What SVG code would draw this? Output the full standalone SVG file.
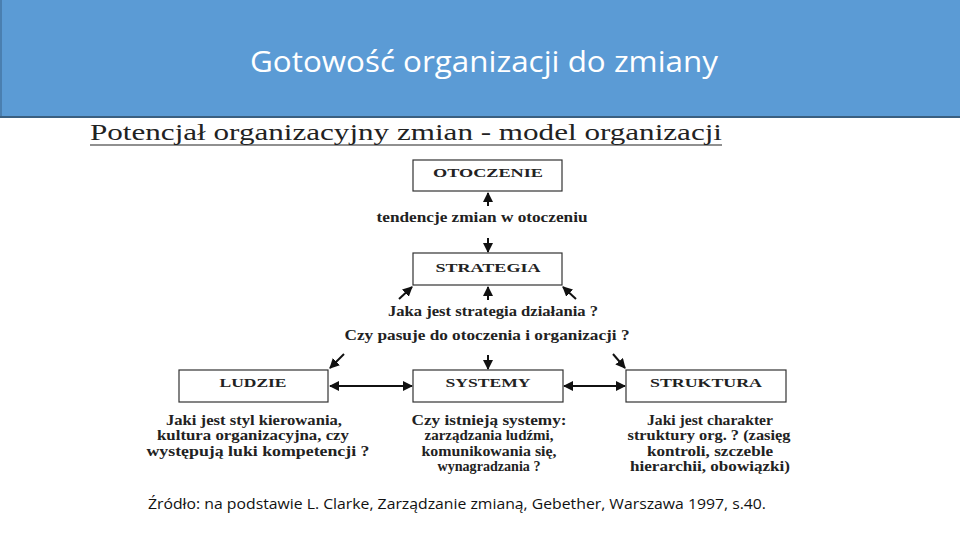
<svg xmlns="http://www.w3.org/2000/svg" width="960" height="540" viewBox="0 0 960 540">
<defs>
<marker id="ah" viewBox="0 0 10 10" refX="9" refY="5" markerWidth="10" markerHeight="10" markerUnits="userSpaceOnUse" orient="auto-start-reverse">
<path d="M0,0 L10,5 L0,10 z" fill="#111"/>
</marker>
<style>
.box{fill:#fff;stroke:#333;stroke-width:1.2}
.bl{font-family:"Liberation Serif","Times New Roman",serif;font-weight:bold;font-size:13px;fill:#222;text-anchor:middle}
.t{font-family:"Liberation Serif","Times New Roman",serif;font-weight:bold;font-size:14px;fill:#222;text-anchor:middle}
.c{stroke:#111;stroke-width:2;fill:none;marker-end:url(#ah)}
.d{stroke:#111;stroke-width:2;fill:none;marker-end:url(#ah);marker-start:url(#ah)}
</style>
</defs>
<rect width="960" height="540" fill="#fff"/>
<g id="header">
<rect x="0" y="0" width="960" height="117" fill="#5B9BD5"/>
<rect x="0" y="0" width="2" height="117" fill="#4A7FB0"/>
<line x1="0" y1="117" x2="960" y2="117" stroke="#3A5F80" stroke-width="2"/>
<text x="484" y="72" font-family="'Open Sans','Liberation Sans',sans-serif" font-size="29" fill="#fff" text-anchor="middle" textLength="468" lengthAdjust="spacingAndGlyphs">Gotowość organizacji do zmiany</text>
</g>
<g id="subtitle">
<text x="90" y="140" font-family="'Liberation Serif','Times New Roman',serif" font-size="23" fill="#222" textLength="632" lengthAdjust="spacingAndGlyphs">Potencjał organizacyjny zmian - model organizacji</text>
<line x1="90" y1="145" x2="722" y2="145" stroke="#222" stroke-width="1.2"/>
</g>
<g id="connectors">
<line class="c" x1="488" y1="206" x2="488" y2="193"/>
<line class="c" x1="488" y1="238" x2="488" y2="252"/>
<line class="c" x1="488" y1="300" x2="488" y2="287"/>
<line class="c" x1="399" y1="299" x2="412" y2="287"/>
<line class="c" x1="576" y1="299" x2="563" y2="287"/>
<line class="c" x1="488" y1="355" x2="488" y2="369"/>
<line class="c" x1="344" y1="354" x2="330" y2="368"/>
<line class="c" x1="613" y1="354" x2="625" y2="368"/>
<line class="d" x1="330" y1="386" x2="412" y2="386"/>
<line class="d" x1="564" y1="386" x2="625" y2="386"/>
</g>
<g id="otoczenie">
<rect class="box" x="413" y="160" width="149" height="31"/>
<text class="bl" x="488" y="177" textLength="110" lengthAdjust="spacingAndGlyphs">OTOCZENIE</text>
</g>
<g id="label-tendencje">
<text class="t" x="482" y="222" textLength="211" lengthAdjust="spacingAndGlyphs">tendencje zmian w otoczeniu</text>
</g>
<g id="strategia">
<rect class="box" x="413" y="253" width="149" height="32"/>
<text class="bl" x="488" y="272" textLength="105" lengthAdjust="spacingAndGlyphs">STRATEGIA</text>
</g>
<g id="label-strategia">
<text class="t" x="493" y="316" textLength="210" lengthAdjust="spacingAndGlyphs">Jaka jest strategia działania ?</text>
<text class="t" x="487" y="340" textLength="285" lengthAdjust="spacingAndGlyphs">Czy pasuje do otoczenia i organizacji ?</text>
</g>
<g id="ludzie">
<rect class="box" x="179" y="370" width="149" height="32"/>
<text class="bl" x="253" y="387" textLength="67" lengthAdjust="spacingAndGlyphs">LUDZIE</text>
<text class="t" x="254" y="425" textLength="176" lengthAdjust="spacingAndGlyphs">Jaki jest styl kierowania,</text>
<text class="t" x="253" y="440" textLength="192" lengthAdjust="spacingAndGlyphs">kultura organizacyjna, czy</text>
<text class="t" x="258" y="456" textLength="223" lengthAdjust="spacingAndGlyphs">występują luki kompetencji ?</text>
</g>
<g id="systemy">
<rect class="box" x="413" y="370" width="150" height="32"/>
<text class="bl" x="488" y="387" textLength="85" lengthAdjust="spacingAndGlyphs">SYSTEMY</text>
<text class="t" x="489" y="425" textLength="155" lengthAdjust="spacingAndGlyphs">Czy istnieją systemy:</text>
<text class="t" x="489" y="440" textLength="129" lengthAdjust="spacingAndGlyphs">zarządzania ludźmi,</text>
<text class="t" x="489" y="456" textLength="135" lengthAdjust="spacingAndGlyphs">komunikowania się,</text>
<text class="t" x="489" y="471" textLength="103" lengthAdjust="spacingAndGlyphs">wynagradzania ?</text>
</g>
<g id="struktura">
<rect class="box" x="626" y="370" width="160" height="32"/>
<text class="bl" x="706" y="387" textLength="112" lengthAdjust="spacingAndGlyphs">STRUKTURA</text>
<text class="t" x="710" y="425" textLength="126" lengthAdjust="spacingAndGlyphs">Jaki jest charakter</text>
<text class="t" x="709" y="440" textLength="163" lengthAdjust="spacingAndGlyphs">struktury org. ? (zasięg</text>
<text class="t" x="710" y="456" textLength="126" lengthAdjust="spacingAndGlyphs">kontroli, szczeble</text>
<text class="t" x="710" y="471" textLength="160" lengthAdjust="spacingAndGlyphs">hierarchii, obowiązki)</text>
</g>
<g id="source">
<text x="148" y="509" font-family="'Open Sans','Liberation Sans',sans-serif" font-size="15" fill="#111" textLength="618" lengthAdjust="spacingAndGlyphs">Źródło: na podstawie L. Clarke, Zarządzanie zmianą, Gebether, Warszawa 1997, s.40.</text>
</g>
</svg>
